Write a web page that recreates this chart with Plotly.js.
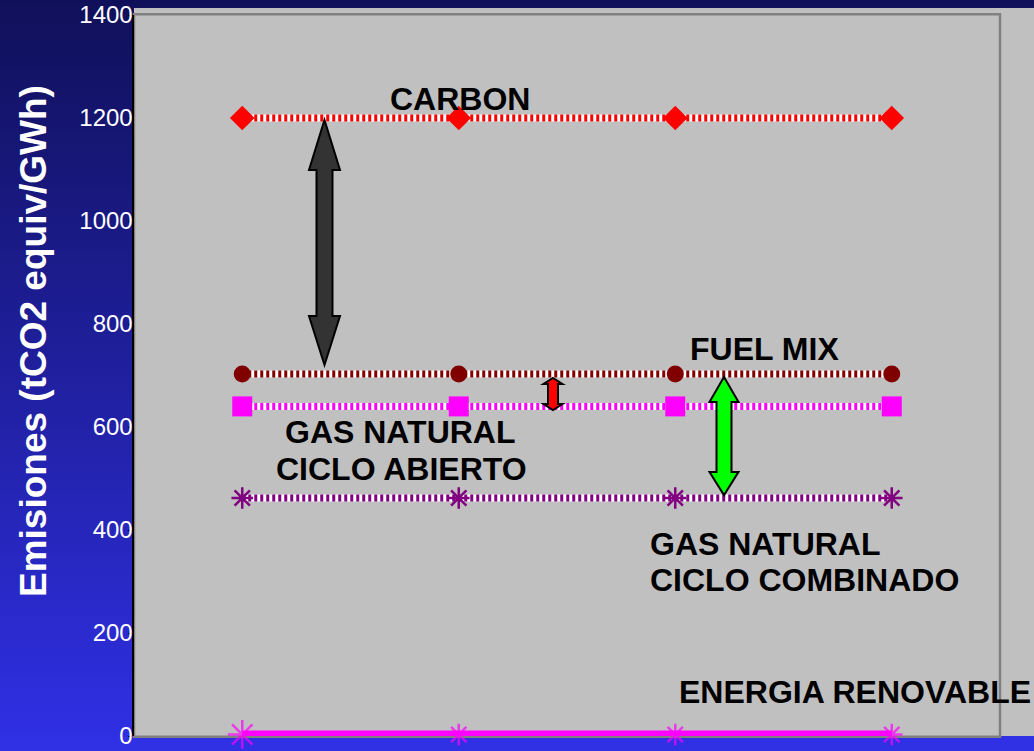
<!DOCTYPE html>
<html>
<head>
<meta charset="utf-8">
<script src="https://cdn.plot.ly/plotly-3.0.1.min.js"></script>
<style>
  html, body { margin: 0; padding: 0; }
  body { width: 1034px; height: 751px; background: linear-gradient(to bottom, #10105a 0%, #1e1e98 45%, #3030e6 100%); overflow: hidden; }
  #chart { width: 1034px; height: 751px; }
</style>
</head>
<body>
<div id="chart"></div>
<script>
// ---- data ----
const positions = [1, 2, 3, 4];
const carbon = [1200, 1200, 1200, 1200];
const fuelMix = [703, 703, 703, 703];
const gasAbiertoSquares = [640, 640, 640, 640];
const gasCombinadoStars = [462, 462, 462, 462];
const renovable = [3, 3, 3, 3];
const yTickVals = [0, 200, 400, 600, 800, 1000, 1200, 1400];
const yTickText = ['0', '200', '400', '600', '800', '1000', '1200', '1400'];
const labels = ['CARBON', 'FUEL MIX', 'GAS NATURAL', 'CICLO ABIERTO', 'GAS NATURAL', 'CICLO COMBINADO', 'ENERGIA RENOVABLE'];
const yTitle = 'Emisiones (tCO2 equiv/GWh)';

// ---- layout helpers ----
const L = 134, R = 34, T = 15, B = 15, W = 1034, H = 751;
const plotW = W - L - R, plotH = H - T - B;
const xRange = [0.5, 4.5], yRange = [0, 1400];
const pxPerX = plotW / (xRange[1] - xRange[0]);
const pxPerY = plotH / (yRange[1] - yRange[0]);
const xFromPx = px => xRange[0] + (px - L) / pxPerX;
const yFromPx = py => yRange[0] + (H - B - py) / pxPerY;

function checkered(y, color, symbol, msize, mline) {
  const base = {x: positions, y: y, mode: 'lines', type: 'scatter', hoverinfo: 'skip', showlegend: false,
    line: {color: '#ffffff', width: 7}, cliponaxis: false};
  const top = {x: positions, y: y, mode: 'lines+markers', type: 'scatter', showlegend: false, cliponaxis: false,
    line: {color: color, width: 7, dash: '3px,3px'},
    marker: {symbol: symbol, size: msize, color: color, line: mline || {width: 0}}};
  return [base, top];
}

const traces = [].concat(
  checkered(carbon, '#ff0000', 'diamond', 19),
  checkered(fuelMix, '#800000', 'circle', 17),
  checkered(gasAbiertoSquares, '#ff00ff', 'square', 20),
  checkered(gasCombinadoStars, '#800080', 'asterisk-open', 18, {color: '#800080', width: 2.5}),
  [{x: positions, y: renovable, mode: 'lines+markers', type: 'scatter', showlegend: false, cliponaxis: false,
    line: {color: '#ff00ff', width: 8},
    marker: {symbol: 'asterisk-open', size: [24, 18, 18, 18],
      line: {color: ['#ff8060', '#ff00ff', '#ff00ff', '#ff00ff'], width: 2.5}}}]
);

// double-headed block arrows (pixel geometry converted to axis units)
function arrowPath(cpx, topPx, topBasePx, botBasePx, botPx, halfShaft, halfHead) {
  const xs = off => xFromPx(cpx + off);
  const pts = [
    [xs(0), yFromPx(topPx)],
    [xs(halfHead), yFromPx(topBasePx)],
    [xs(halfShaft), yFromPx(topBasePx)],
    [xs(halfShaft), yFromPx(botBasePx)],
    [xs(halfHead), yFromPx(botBasePx)],
    [xs(0), yFromPx(botPx)],
    [xs(-halfHead), yFromPx(botBasePx)],
    [xs(-halfShaft), yFromPx(botBasePx)],
    [xs(-halfShaft), yFromPx(topBasePx)],
    [xs(-halfHead), yFromPx(topBasePx)]
  ];
  return 'M' + pts.map(p => p[0].toFixed(5) + ',' + p[1].toFixed(3)).join(' L') + ' Z';
}

const shapes = [
  {type: 'rect', xref: 'paper', yref: 'paper', x0: 0, x1: (W - L) / plotW, y0: 0, y1: (H - B - 8) / plotH,
    fillcolor: '#c0c0c0', line: {width: 0}, layer: 'below'},
  {type: 'rect', xref: 'paper', yref: 'paper', x0: 0, x1: 1, y0: -0.001, y1: 1.001,
    fillcolor: 'rgba(0,0,0,0)', line: {color: '#808080', width: 2.5}, layer: 'below'},
  {type: 'path', xref: 'x', yref: 'y', path: arrowPath(324.5, 120, 170, 316, 365, 8, 15.5),
    fillcolor: '#333333', line: {color: '#000000', width: 2}},
  {type: 'path', xref: 'x', yref: 'y', path: arrowPath(724, 377, 402, 472, 495, 7.5, 14.5),
    fillcolor: '#00ff00', line: {color: '#000000', width: 2}},
  {type: 'path', xref: 'x', yref: 'y', path: arrowPath(553, 378, 384, 404, 410, 5, 9.5),
    fillcolor: '#ff0000', line: {color: '#000000', width: 2}}
];

const lblFont = {family: 'Liberation Sans, Arial, sans-serif', size: 32, color: '#000000', weight: 'bold'};
function lbl(text, px, py, anchor) {
  return {text: text, xref: 'x', yref: 'y', x: xFromPx(px), y: yFromPx(py), xanchor: anchor, yanchor: 'middle',
    showarrow: false, font: lblFont};
}
const annotations = [
  lbl(labels[0], 460, 99, 'center'),
  lbl(labels[1], 764, 349, 'center'),
  lbl(labels[2], 400, 432, 'center'),
  lbl(labels[3], 401, 469, 'center'),
  lbl(labels[4], 648, 544, 'left'),
  lbl(labels[5], 648, 580, 'left'),
  lbl(labels[6], 677, 692, 'left'),
  {text: yTitle, xref: 'paper', yref: 'paper', x: (33 - L) / plotW, y: (H - B - 341) / plotH,
    xanchor: 'center', yanchor: 'middle', textangle: -90, showarrow: false,
    font: {family: 'Liberation Sans, Arial, sans-serif', size: 37, color: '#ffffff', weight: 'bold'}}
];

const layout = {
  width: W, height: H,
  margin: {l: L, r: R, t: T, b: B, pad: 0},
  paper_bgcolor: 'rgba(0,0,0,0)',
  plot_bgcolor: 'rgba(0,0,0,0)',
  showlegend: false,
  xaxis: {range: xRange, visible: false, fixedrange: true},
  yaxis: {range: yRange, tickvals: yTickVals, ticktext: yTickText, showgrid: false, zeroline: false,
    showline: true, linecolor: '#000000', linewidth: 2.5, ticks: 'outside', ticklen: 4, tickcolor: '#000000',
    ticklabelstandoff: -10,
    tickfont: {family: 'Liberation Sans, Arial, sans-serif', size: 24, color: '#ffffff'}, fixedrange: true},
  shapes: shapes,
  annotations: annotations
};

Plotly.newPlot('chart', traces, layout, {displayModeBar: false, staticPlot: true});
</script>
</body>
</html>
